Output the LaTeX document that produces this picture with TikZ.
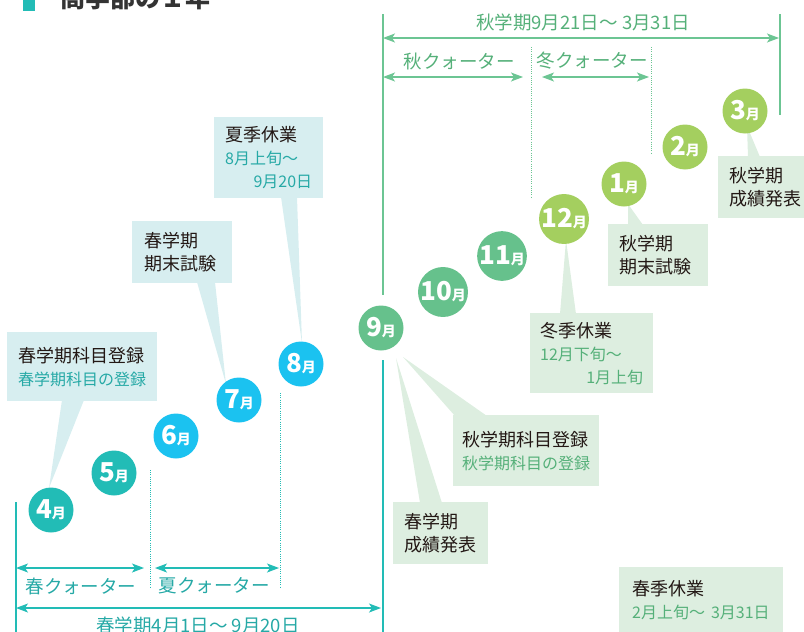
\documentclass[tikz,border=0pt]{standalone}
\usepackage{fontspec}
\setmainfont{Noto Sans CJK JP}
\usetikzlibrary{arrows.meta}
\definecolor{springteal}{HTML}{22BCB6}
\definecolor{springcyan}{HTML}{1BC2F0}
\definecolor{fallgreen}{HTML}{66C18C}
\definecolor{falllime}{HTML}{A4CF5F}
\definecolor{springbg}{HTML}{D7EEF0}
\definecolor{fallbg}{HTML}{DDEEE0}
\definecolor{springtxt}{HTML}{26A9A6}
\definecolor{falltxt}{HTML}{55B079}
\definecolor{inktxt}{HTML}{231815}
\definecolor{fallline}{HTML}{6CC593}
\definecolor{titleink}{HTML}{333333}
\newcommand\mthlabel[1]{{\fontsize{26}{26}\selectfont #1}{\fontsize{14}{14}\selectfont 月}}
\tikzset{
  month/.style={circle, minimum size=45pt, inner sep=0pt, text=white, font=\bfseries},
  callout/.style={anchor=north west, inner xsep=11pt, inner ysep=0pt, align=left,
     text=inktxt, font=\fontsize{18}{23}\selectfont},
  spbox/.style={callout, fill=springbg},
  fabox/.style={callout, fill=fallbg},
  spanarrow/.style={line width=1.2pt, {Stealth[length=12pt,width=9pt,inset=3pt]}-{Stealth[length=12pt,width=9pt,inset=3pt]}},
  spline/.style={line width=1.2pt, draw=springteal},
  faline/.style={line width=1.2pt, draw=fallline},
  dotline/.style={line width=1pt, dash pattern=on 1pt off 1.2pt},
  splabel/.style={text=springtxt, font=\fontsize{18.5}{18.5}\selectfont, inner sep=0pt},
  falabel/.style={text=falltxt, font=\fontsize{18.5}{18.5}\selectfont, inner sep=0pt},
}
\begin{document}
\begin{tikzpicture}[x=1pt,y=-1pt]
\useasboundingbox (0,0) rectangle (804,632);
\clip (0,0) rectangle (804,632);
% title (cut by the top edge)
\fill[springteal] (23,-12) rectangle (35,11);
\node[anchor=base west, inner sep=0pt, text=titleink, font=\bfseries\fontsize{25}{25}\selectfont] (title) at (60,7) {商学部の１年};

% coordinates
\coordinate (spTop) at (16,502);   \coordinate (spBot) at (16,632);
\coordinate (midTop) at (383,360); \coordinate (midBot) at (383,632);
\coordinate (faTop) at (383,14);   \coordinate (faMid) at (383,295);
\coordinate (endTop) at (780,14);  \coordinate (endBot) at (780,115);
\coordinate (d1t) at (150,470); \coordinate (d1b) at (150,588);
\coordinate (d2t) at (280,393); \coordinate (d2b) at (280,588);
\coordinate (d3t) at (531,47);  \coordinate (d3b) at (531,197);
\coordinate (d4t) at (651,47);  \coordinate (d4b) at (651,153);

% vertical lines
\draw[spline] (spTop) -- (spBot);
\draw[spline] (midTop) -- (midBot);
\draw[faline] (faTop) -- (faMid);
\draw[faline] (endTop) -- (endBot);
\draw[dotline, springteal] (d1t) -- (d1b);
\draw[dotline, springteal] (d2t) -- (d2b);
\draw[dotline, fallline] (d3t) -- (d3b);
\draw[dotline, fallline] (d4t) -- (d4b);

% spring span arrows
\coordinate (q1a) at (16,568);  \coordinate (q1b) at (144,568);
\coordinate (q2a) at (155,568); \coordinate (q2b) at (279,568);
\coordinate (sta) at (16,608);  \coordinate (stb) at (381,608);
\draw[spanarrow, springteal] (q1a) -- (q1b);
\draw[spanarrow, springteal] (q2a) -- (q2b);
\draw[spanarrow, springteal] (sta) -- (stb);
\node[splabel] (lq1) at (81,586) {春クォーター};
\node[splabel] (lq2) at (214,586) {夏クォーター};
\node[splabel] (lst) at (198,625) {春学期4月1日～ 9月20日};

% fall span arrows
\coordinate (fta) at (383,38);  \coordinate (ftb) at (779,38);
\coordinate (q3a) at (383,77);  \coordinate (q3b) at (523,77);
\coordinate (q4a) at (542,77);  \coordinate (q4b) at (649,77);
\draw[spanarrow, fallline] (fta) -- (ftb);
\draw[spanarrow, fallline] (q3a) -- (q3b);
\draw[spanarrow, fallline] (q4a) -- (q4b);
\node[falabel] (lft) at (583,22) {秋学期9月21日～ 3月31日};
\node[falabel] (lq3) at (459,61) {秋クォーター};
\node[falabel] (lq4) at (592,61) {冬クォーター};

% callout pointers
\fill[springbg] (49,488) -- (62,400) -- (84,400) -- cycle;
\fill[springbg] (226,384) -- (197,282) -- (215,282) -- cycle;
\fill[springbg] (302,343) -- (281,197) -- (297,197) -- cycle;
\fill[fallbg] (403,357) -- (455,416) -- (487,416) -- cycle;
\fill[fallbg] (396,358) -- (420,503) -- (442,503) -- cycle;
\fill[fallbg] (566,240) -- (560,314) -- (576,314) -- cycle;
\fill[fallbg] (628,204) -- (628,225) -- (643,225) -- cycle;
\fill[fallbg] (747,126) -- (748,157) -- (760,157) -- cycle;

% callout boxes
\node[spbox, minimum width=150pt, minimum height=69pt, text width=128pt] (bA) at (7,332)
  {春学期科目登録\\{\color{springtxt}\fontsize{16}{23}\selectfont 春学期科目の登録}};
\node[spbox, minimum width=100pt, minimum height=62pt, inner xsep=12pt, text width=76pt] (bB) at (132,221)
  {春学期\\期末試験};
\node[spbox, minimum width=109pt, minimum height=81pt, inner xsep=11pt, text width=87pt] (bC) at (214,117)
  {夏季休業\\{\color{springtxt}\fontsize{16}{23}\selectfont 8月上旬～}\\{\color{springtxt}\fontsize{16}{23}\selectfont\hspace*{\fill}9月20日}};
\node[fabox, minimum width=146pt, minimum height=71pt, inner xsep=9pt, text width=128pt] (bD) at (453,415)
  {秋学期科目登録\\{\color{falltxt}\fontsize{16}{23}\selectfont 秋学期科目の登録}};
\node[fabox, minimum width=95pt, minimum height=62pt, text width=73pt] (bE) at (393,502)
  {春学期\\成績発表};
\node[fabox, minimum width=123pt, minimum height=80pt, inner xsep=10pt, text width=103pt] (bF) at (530,313)
  {冬季休業\\{\color{falltxt}\fontsize{16}{23}\selectfont 12月下旬～}\\{\color{falltxt}\fontsize{16}{23}\selectfont\hspace*{\fill}1月上旬}};
\node[fabox, minimum width=100pt, minimum height=62pt, text width=78pt] (bG) at (608,224)
  {秋学期\\期末試験};
\node[fabox, minimum width=90pt, minimum height=62pt, text width=78pt, inner xsep=11pt] (bH) at (718,156)
  {秋学期\\成績発表};
\node[fabox, minimum width=164pt, minimum height=66pt, inner xsep=13pt, text width=138pt] (bI) at (619,567)
  {春季休業\\{\color{falltxt}\fontsize{16}{23}\selectfont 2月上旬～ 3月31日}};

% month circles
\node[month, fill=springteal] (m4) at (51,510) {\mthlabel{4}};
\node[month, fill=springteal] (m5) at (114,473) {\mthlabel{5}};
\node[month, fill=springcyan] (m6) at (176,436) {\mthlabel{6}};
\node[month, fill=springcyan] (m7) at (239,400) {\mthlabel{7}};
\node[month, fill=springcyan] (m8) at (301,364) {\mthlabel{8}};
\node[month, fill=fallgreen] (m9) at (381,328) {\mthlabel{9}};
\node[month, fill=fallgreen] (m10) at (443,292) {\mthlabel{10}};
\node[month, fill=fallgreen] (m11) at (502,256) {\mthlabel{11}};
\node[month, fill=falllime] (m12) at (564,219) {\mthlabel{12}};
\node[month, fill=falllime] (m1) at (624,184) {\mthlabel{1}};
\node[month, fill=falllime] (m2) at (685,147) {\mthlabel{2}};
\node[month, fill=falllime] (m3) at (745,111) {\mthlabel{3}};
\end{tikzpicture}
\end{document}
